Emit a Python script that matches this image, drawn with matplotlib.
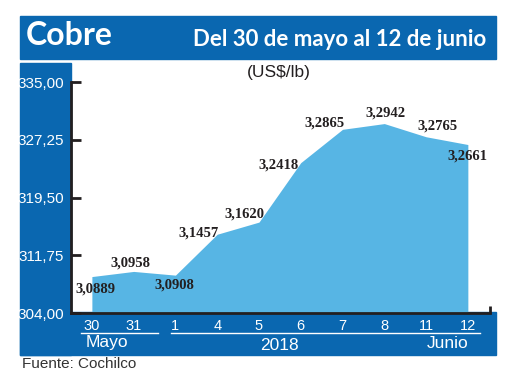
import matplotlib
matplotlib.use("Agg")
import matplotlib.pyplot as plt
from matplotlib.patches import Rectangle
from matplotlib.lines import Line2D

# Datos: precio del cobre (US$/lb), del 30 de mayo al 12 de junio de 2018
dias = ["30", "31", "1", "4", "5", "6", "7", "8", "11", "12"]
precios = [3.0889, 3.0958, 3.0908, 3.1457, 3.1620, 3.2418, 3.2865, 3.2942, 3.2765, 3.2661]
ticks_y = [304.00, 311.75, 319.50, 327.25, 335.00]

# desplazamiento de cada etiqueta respecto al punto (pixeles)
offsets = [(4, -12), (-3, 8), (-1, -10), (-19, 1), (-15, 8),
           (-22, -2), (-18, 6), (1, 11), (11, 11), (0, -11)]

AZUL = "#0a67b0"
CELESTE = "#57b5e4"
NEGRO = "#231f20"

W, H = 520, 390
fig = plt.figure(figsize=(W / 100, H / 100), dpi=100)


def caja(x0, y0, x1, y1, color):
    # coordenadas en pixeles desde arriba a la izquierda
    fig.patches.append(Rectangle((x0 / W, 1 - y1 / H), (x1 - x0) / W, (y1 - y0) / H,
                                 transform=fig.transFigure, color=color, zorder=-1))


def fx(x):
    return x / W


def fy(y):
    return 1 - y / H


# fondos azules
caja(20, 16, 496, 59, AZUL)
caja(20, 63, 71, 355, AZUL)
caja(20, 312, 496, 355, AZUL)

# ejes
ax = fig.add_axes([fx(71), fy(313), (490 - 71) / W, (313 - 82) / H])
ax.set_zorder(1)
ax.set_facecolor("none")
x = list(range(len(dias)))
valores = [p * 100 for p in precios]
ax.fill_between(x, 304, valores, color=CELESTE, linewidth=0)

ax.set_xlim(-0.5, 9.53)
ax.set_ylim(304, 335)
ax.set_yticks(ticks_y)
ax.set_yticklabels([f"{t:.2f}".replace(".", ",") for t in ticks_y])
ax.set_xticks(x)
ax.set_xticklabels(dias)

for s in ["top", "right"]:
    ax.spines[s].set_visible(False)
for s in ["left", "bottom"]:
    ax.spines[s].set_linewidth(2)
    ax.spines[s].set_color(NEGRO)

ax.tick_params(axis="y", direction="in", length=7, width=2, color=NEGRO,
               labelcolor="white", labelsize=11, pad=5)
ax.tick_params(axis="x", length=0, labelcolor="white", labelsize=10.5, pad=4)
for lab in ax.get_yticklabels() + ax.get_xticklabels():
    lab.set_fontfamily("Liberation Sans")

# marca al final del eje x
ax.plot([1, 1], [0, 0.03], transform=ax.transAxes, color=NEGRO, lw=2,
        clip_on=False, solid_capstyle="butt")

# etiquetas de valores
for xi, p, v, (dx, dy) in zip(x, precios, valores, offsets):
    ax.annotate(f"{p:.4f}".replace(".", ","), (xi, v), xytext=(dx, dy),
                textcoords="offset pixels", ha="center", va="center",
                fontsize=10.5, fontweight="bold", family="Liberation Serif",
                color=NEGRO, annotation_clip=False)

# encabezado
fig.text(fx(26), fy(45), "Cobre", color="white", fontsize=23, fontweight="bold",
         family="Lato", ha="left", va="baseline")
fig.text(fx(486), fy(46), "Del 30 de mayo al 12 de junio", color="white",
         fontsize=16, fontweight="bold", family="Lato", ha="right", va="baseline")
fig.text(fx(279), fy(72), "(US$/lb)", color=NEGRO, fontsize=12.5,
         family="Liberation Sans", ha="center", va="center")

# meses y año bajo el eje
fig.add_artist(Line2D([fx(81), fx(158)], [fy(333), fy(333)], color="white", lw=1))
fig.add_artist(Line2D([fx(171), fx(480)], [fy(333), fy(333)], color="white", lw=1))
fig.text(fx(107), fy(343), "Mayo", color="white", fontsize=12.5,
         family="Liberation Sans", ha="center", va="center")
fig.text(fx(279), fy(345), "2018", color="white", fontsize=12.5,
         family="Liberation Sans", ha="center", va="center")
fig.text(fx(448), fy(343), "Junio", color="white", fontsize=12.5,
         family="Liberation Sans", ha="center", va="center")

fig.text(fx(22), fy(364), "Fuente: Cochilco", color="#333333", fontsize=11,
         family="Liberation Sans", ha="left", va="center")

fig.savefig("out.png", dpi=100)
